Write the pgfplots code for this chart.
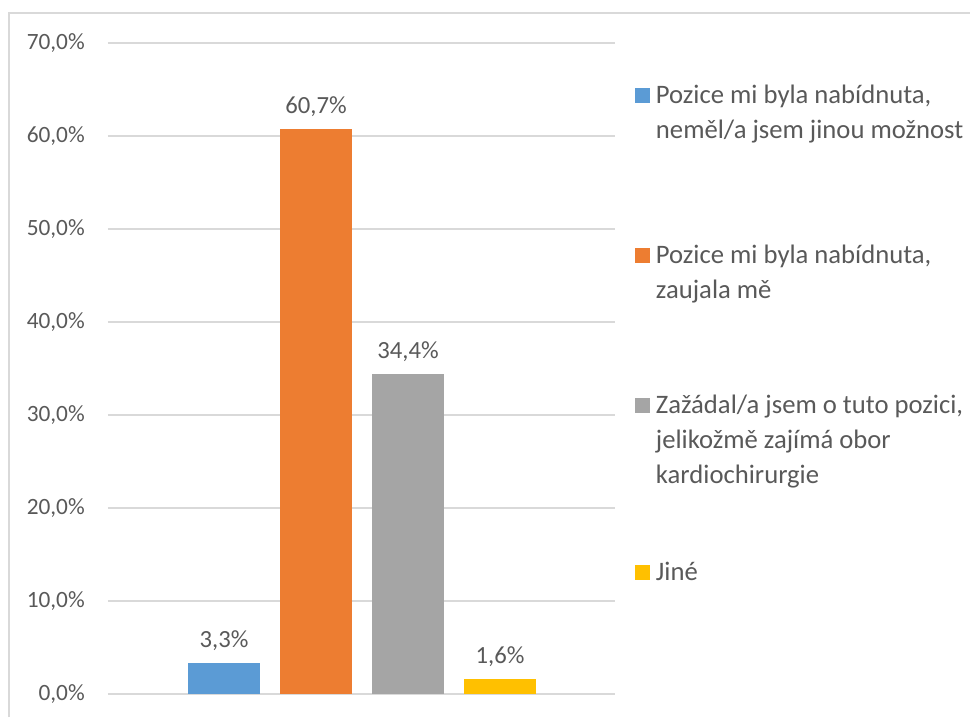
\documentclass[border=0pt]{standalone}
\usepackage{fontspec}
\setmainfont{Carlito}
\usepackage{pgfplots}
\pgfplotsset{compat=1.18}
\definecolor{cBlue}{HTML}{5B9BD5}
\definecolor{cOrange}{HTML}{ED7D31}
\definecolor{cGray}{HTML}{A5A5A5}
\definecolor{cYellow}{HTML}{FFC000}
\definecolor{gridgray}{HTML}{D9D9D9}
\definecolor{textgray}{HTML}{595959}
\begin{document}
\begin{tikzpicture}
% picture is 970x717 px, 1px = 0.75pt
\useasboundingbox (0pt,0pt) rectangle (727.5pt,537.75pt);
\begin{axis}[
    at={(81pt,17.25pt)}, anchor=south west,
    scale only axis, width=380.25pt, height=488.25pt,
    xmin=-1.261, xmax=4.25, ymin=0, ymax=70,
    ybar, bar width=54pt, bar shift=0pt,
    xtick=\empty, ytick={0,10,...,70},
    ymajorgrids, grid style={color=gridgray, line width=1pt},
    axis line style={draw=none}, major tick style={draw=none},
    /pgf/number format/assume math mode=true,
    yticklabel={\pgfmathprintnumber[fixed,fixed zerofill,precision=1,use comma]{\tick}\%},
    yticklabel style={anchor=east, inner sep=0pt, xshift=-17.25pt,
      font=\fontsize{17.5}{20}\selectfont, text=textgray},
    nodes near coords={\pgfmathprintnumber[fixed,fixed zerofill,precision=1,use comma]{\pgfplotspointmeta}\%},
    every node near coord/.style={anchor=base, yshift=12pt,
      font=\fontsize{18.5}{20}\selectfont, text=textgray},
    legend image code/.code={\fill[#1] (0pt,0pt) rectangle (11.25pt,11.25pt);},
    legend style={at={(axis description cs:1.0394,0.9467)}, anchor=north west,
      draw=none, fill=none, inner sep=0pt, outer sep=0pt,
      row sep=0pt, column sep=4.5pt, cells={anchor=base west},
      nodes={inner sep=0pt, text depth=, text height=},
      font=\fontsize{20}{26.25}\selectfont, text=textgray},
  ]
  \addplot[fill=cBlue, draw=none] coordinates {(0,3.3)};
  \addlegendentry{\parbox[t]{234pt}{\raggedright\rule{0pt}{19pt}Pozice mi byla nabídnuta,\\neměl/a jsem jinou možnost\rule[-74.75pt]{0pt}{74.75pt}}}
  \addplot[fill=cOrange, draw=none] coordinates {(1,60.7)};
  \addlegendentry{\parbox[t]{234pt}{\raggedright\rule{0pt}{19pt}Pozice mi byla nabídnuta,\\zaujala mě\rule[-67.25pt]{0pt}{67.25pt}}}
  \addplot[fill=cGray, draw=none] coordinates {(2,34.4)};
  \addlegendentry{\parbox[t]{234pt}{\raggedright\rule{0pt}{19pt}Zažádal/a jsem o tuto pozici,\\jelikožmě zajímá obor\\kardiochirurgie\rule[-53.75pt]{0pt}{53.75pt}}}
  \addplot[fill=cYellow, draw=none] coordinates {(3,1.6)};
  \addlegendentry{\parbox[t]{234pt}{\raggedright\rule{0pt}{19pt}Jiné}}
\end{axis}
% chart area frame
\draw[gridgray, line width=1.5pt] (6.75pt,0pt) -- (6.75pt,528pt) -- (727.5pt,528pt);
\end{tikzpicture}
\end{document}
